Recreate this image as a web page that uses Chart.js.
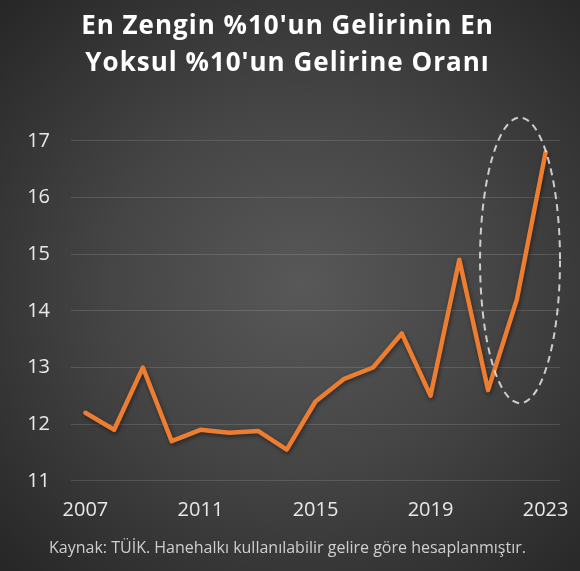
<!DOCTYPE html>
<html lang="tr">
<head>
    <meta charset="UTF-8" />
    <title>En Zengin %10'un Gelirinin En Yoksul %10'un Gelirine Oranı</title>
    <script src="https://cdn.jsdelivr.net/npm/chart.js"></script>
    <style>
        html, body {
            margin: 0;
            padding: 0;
        }
        body {
            width: 580px;
            height: 571px;
            overflow: hidden;
            background: radial-gradient(ellipse farthest-corner at 52% 50%, #585858 0%, #454545 45%, #262626 100%);
        }
        #wrap {
            width: 580px;
            height: 571px;
        }
    </style>
</head>
<body>

<div id="wrap">
    <canvas id="ratioChart"></canvas>
</div>

<script>
    // yıllar ve S90/S10 oranı
    const years = ['2007', '2008', '2009', '2010', '2011', '2012', '2013', '2014', '2015',
                   '2016', '2017', '2018', '2019', '2020', '2021', '2022', '2023'];
    const ratios = [12.2, 11.9, 13.0, 11.7, 11.9, 11.85, 11.88, 11.55, 12.4,
                    12.8, 13.0, 13.6, 12.5, 14.9, 12.6, 14.2, 16.8];
    const yTicks = [11, 12, 13, 14, 15, 16, 17];
    const shownYears = ['2007', '2011', '2015', '2019', '2023'];

    const titleLines = ["En Zengin %10'un Gelirinin En", "Yoksul %10'un Gelirine Oranı"];
    const sourceNote = 'Kaynak: TÜİK. Hanehalkı kullanılabilir gelire göre hesaplanmıştır.';

    // son yılları çevreleyen kesikli elips
    const ellipsePlugin = {
        id: 'dashedEllipse',
        afterDatasetsDraw(chart, args, opts) {
            const x = chart.scales.x;
            const y = chart.scales.y;
            const step = x.getPixelForValue(1) - x.getPixelForValue(0);
            const cx = x.getPixelForValue(0) + opts.centerIndex * step;
            const cy = y.getPixelForValue(opts.centerValue);
            const rx = opts.radiusIndex * step;
            const ry = Math.abs(y.getPixelForValue(opts.centerValue + opts.radiusValue) - cy);
            const ctx = chart.ctx;
            ctx.save();
            ctx.beginPath();
            ctx.ellipse(cx, cy, rx, ry, 0, 0, Math.PI * 2);
            ctx.setLineDash([7, 5]);
            ctx.lineWidth = 2;
            ctx.strokeStyle = opts.color;
            ctx.stroke();
            ctx.restore();
        }
    };

    // çizgiye hafif gölge
    const shadowPlugin = {
        id: 'lineShadow',
        beforeDatasetDraw(chart) {
            const ctx = chart.ctx;
            ctx.save();
            ctx.shadowColor = 'rgba(0, 0, 0, 0.45)';
            ctx.shadowBlur = 4;
            ctx.shadowOffsetX = 1;
            ctx.shadowOffsetY = 2;
        },
        afterDatasetDraw(chart) {
            chart.ctx.restore();
        }
    };

    const ctx = document.getElementById('ratioChart').getContext('2d');

    const chart = new Chart(ctx, {
        type: 'line',
        data: {
            labels: years,
            datasets: [{
                data: ratios,
                borderColor: '#ED7D31',
                borderWidth: 4.5,
                borderJoinStyle: 'round',
                borderCapStyle: 'round',
                pointRadius: 0,
                tension: 0,
                fill: false
            }]
        },
        options: {
            responsive: true,
            maintainAspectRatio: false,
            animation: false,
            layout: {
                padding: { left: 15, right: 20, top: 0, bottom: 0 }
            },
            plugins: {
                legend: { display: false },
                tooltip: { enabled: false },
                title: {
                    display: true,
                    text: titleLines,
                    color: '#ffffff',
                    font: { family: 'Open Sans', size: 26, weight: 'bold', lineHeight: 1.42 },
                    padding: { top: 8, bottom: 59 }
                },
                subtitle: {
                    display: true,
                    position: 'bottom',
                    text: sourceNote,
                    color: '#cfcfcf',
                    font: { family: 'Open Sans', size: 16, lineHeight: 1.2 },
                    padding: { top: 0, bottom: 13 }
                },
                dashedEllipse: {
                    centerIndex: 15.11,
                    centerValue: 14.89,
                    radiusIndex: 1.39,
                    radiusValue: 2.52,
                    color: 'rgba(230, 230, 230, 0.85)'
                }
            },
            scales: {
                x: {
                    offset: true,
                    border: { display: false },
                    grid: { display: false, drawTicks: false },
                    afterFit: function (axis) {
                        axis.paddingLeft = 0;
                        axis.paddingRight = 0;
                    },
                    ticks: {
                        autoSkip: false,
                        maxRotation: 0,
                        padding: 17,
                        color: '#e8e8e8',
                        font: { family: 'Open Sans', size: 20 },
                        callback: function (value) {
                            const label = this.getLabelForValue(value);
                            return shownYears.includes(label) ? label : '';
                        }
                    }
                },
                y: {
                    min: yTicks[0],
                    max: yTicks[yTicks.length - 1],
                    border: { display: false },
                    grid: { color: 'rgba(255, 255, 255, 0.13)', lineWidth: 1, drawTicks: false },
                    afterBuildTicks: function (axis) {
                        axis.ticks = yTicks.map(v => ({ value: v }));
                    },
                    afterFit: function (axis) {
                        axis.width = 56;
                    },
                    ticks: {
                        padding: 21,
                        color: '#e8e8e8',
                        font: { family: 'Open Sans', size: 20 }
                    }
                }
            }
        },
        plugins: [shadowPlugin, ellipsePlugin]
    });

    // başlıkta harf aralığı biraz açık
    const drawTitle = chart.titleBlock.draw.bind(chart.titleBlock);
    chart.titleBlock.draw = function () {
        chart.ctx.save();
        chart.ctx.letterSpacing = '1px';
        drawTitle();
        chart.ctx.restore();
    };
    chart.draw();
</script>

</body>
</html>
